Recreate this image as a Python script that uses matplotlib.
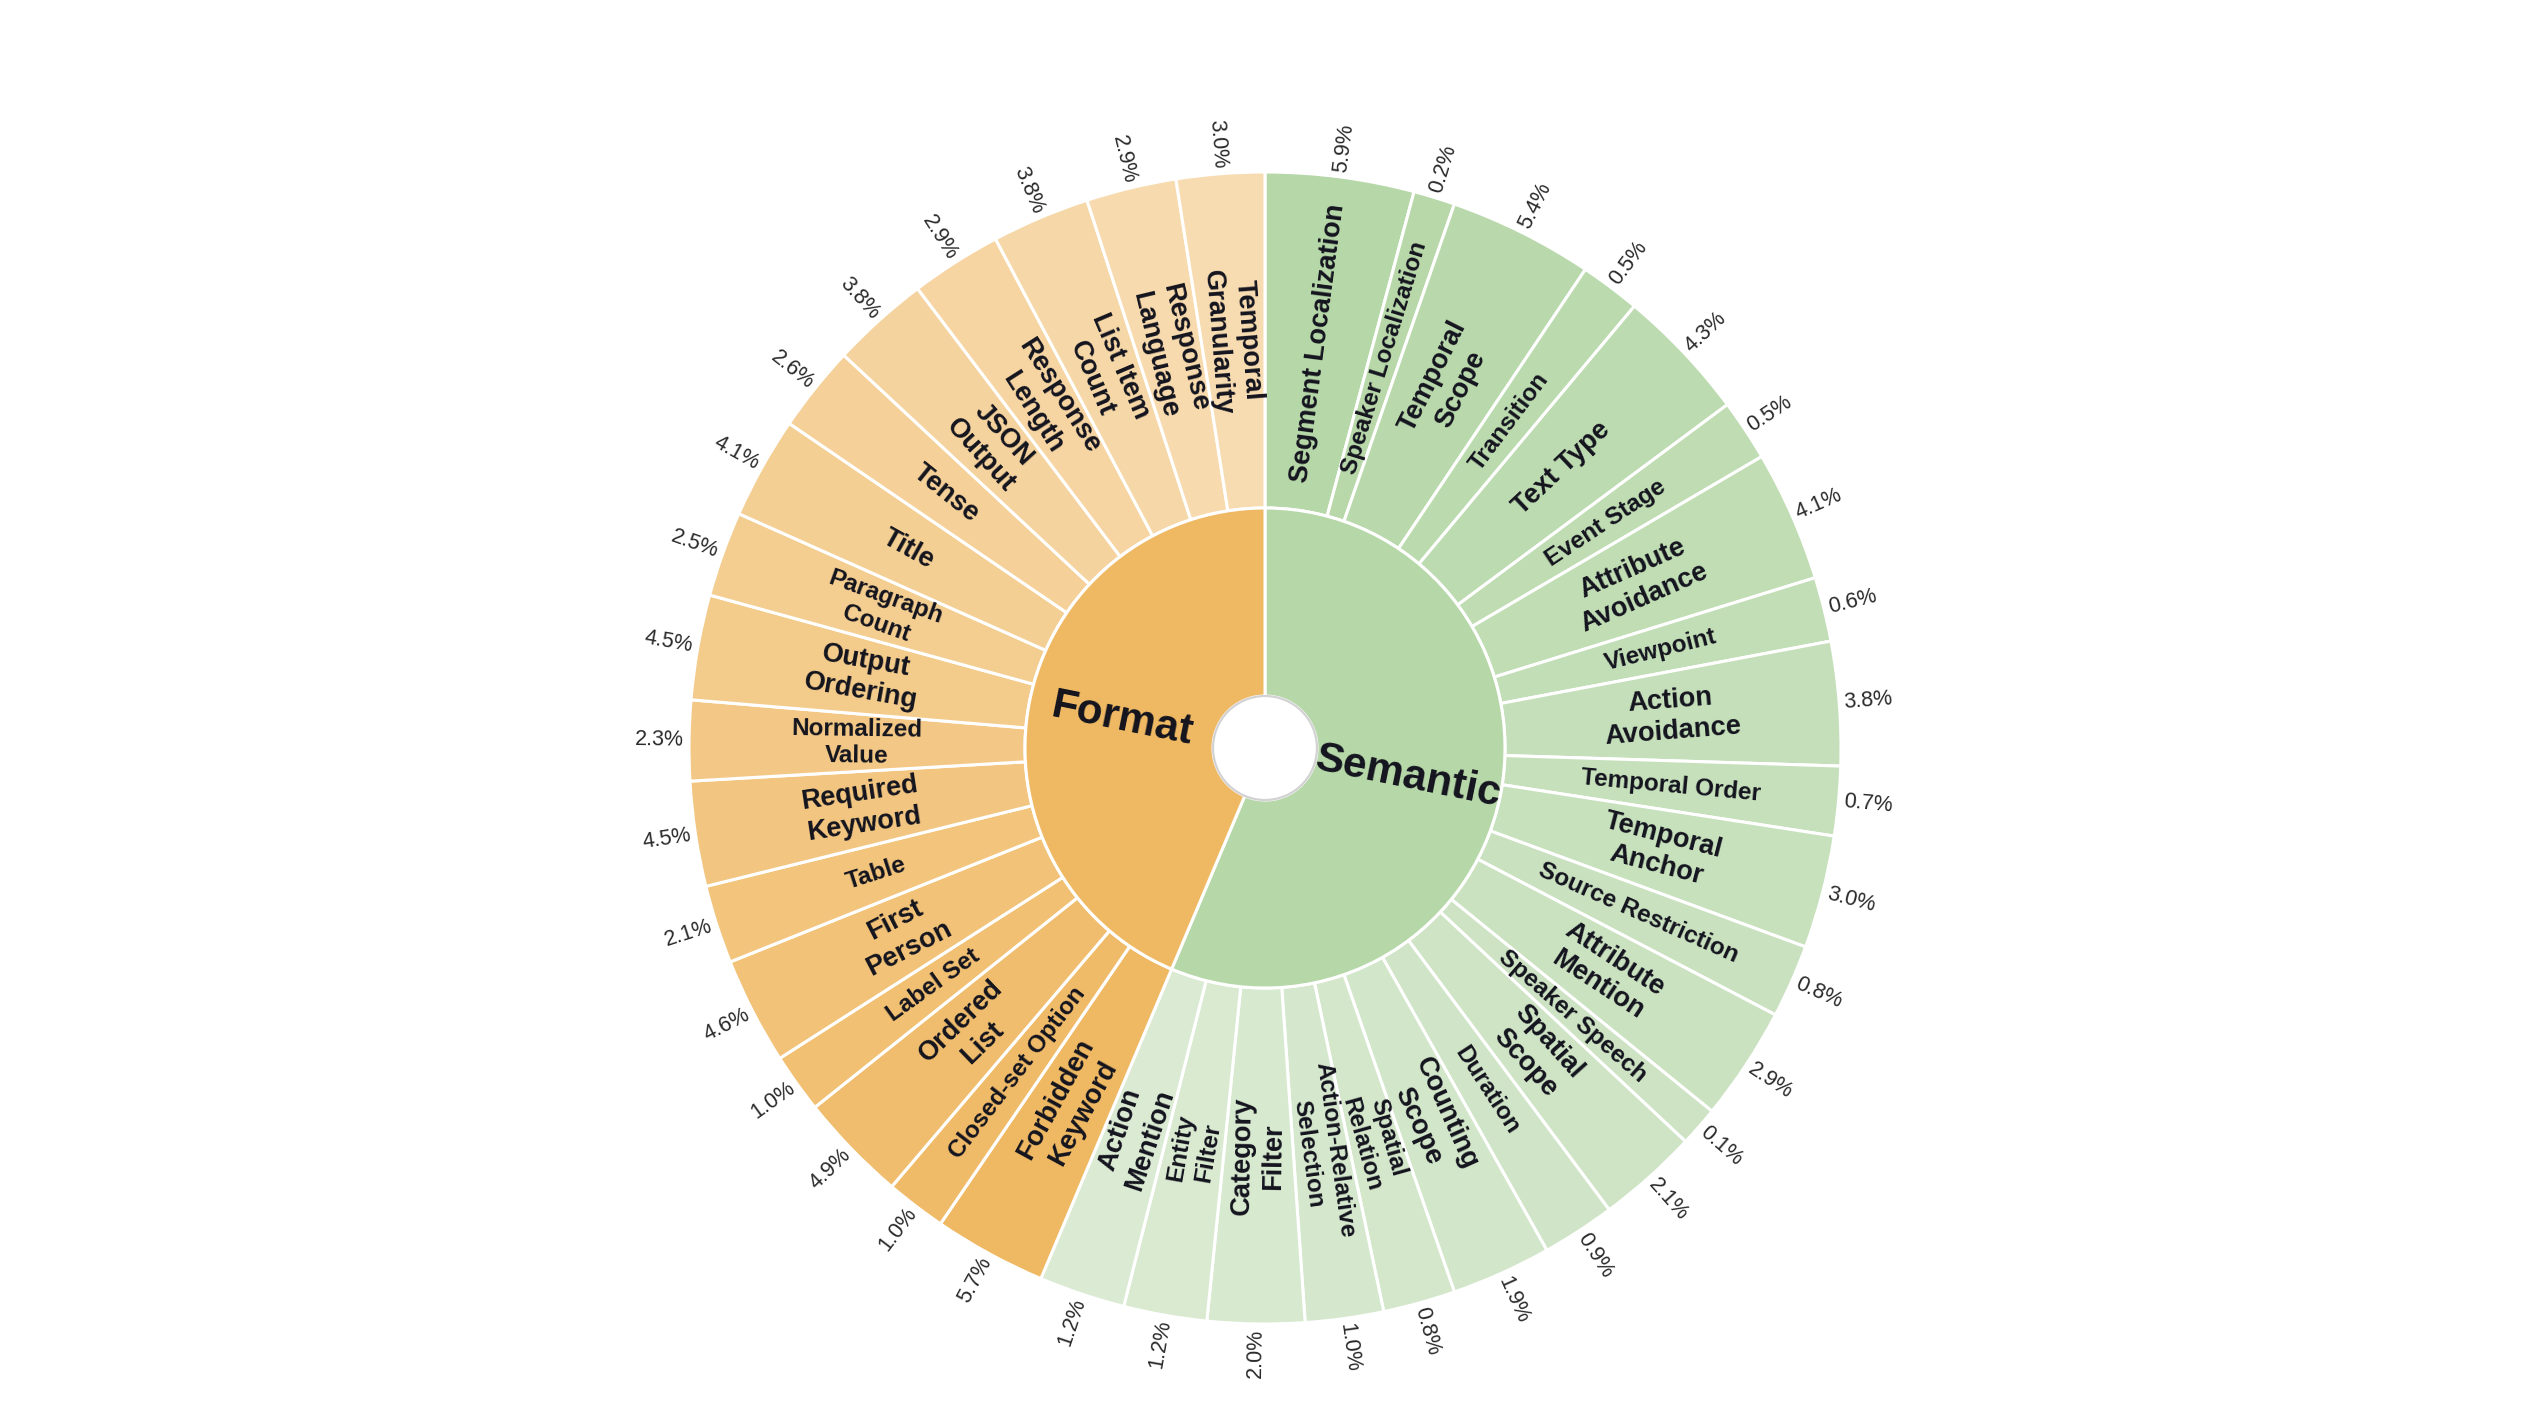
import matplotlib.pyplot as plt
import numpy as np
from matplotlib.patches import Circle

plt.rcParams['font.family'] = ['Liberation Sans', 'DejaVu Sans']

# 内圈两大类
groups = ['Semantic', 'Format']

# Semantic 子类（从正上方顺时针）
semantic_labels = ['Segment Localization', 'Speaker Localization', 'Temporal\nScope', 'Transition',
                   'Text Type', 'Event Stage', 'Attribute\nAvoidance', 'Viewpoint', 'Action\nAvoidance',
                   'Temporal Order', 'Temporal\nAnchor', 'Source Restriction', 'Attribute\nMention',
                   'Speaker Speech', 'Spatial\nScope', 'Duration', 'Counting\nScope', 'Spatial\nRelation',
                   'Action-Relative\nSelection', 'Category\nFilter', 'Entity\nFilter', 'Action\nMention']
semantic_pct = [5.9, 0.2, 5.4, 0.5, 4.3, 0.5, 4.1, 0.6, 3.8, 0.7, 3.0, 0.8, 2.9, 0.1, 2.1, 0.9,
                1.9, 0.8, 1.0, 2.0, 1.2, 1.2]
# 扇区角度（度，读图）
semantic_size = [15.0, 4.2, 14.6, 6.1, 13.5, 6.2, 13.2, 6.5, 12.5, 7.0, 11.4, 7.4, 11.5, 4.0,
                 10.2, 7.4, 10.1, 7.3, 7.9, 9.8, 8.4, 8.7]

# Format 子类（接着顺时针）
format_labels = ['Forbidden\nKeyword', 'Closed-set Option', 'Ordered\nList', 'Label Set', 'First\nPerson',
                 'Table', 'Required\nKeyword', 'Normalized\nValue', 'Output\nOrdering', 'Paragraph\nCount',
                 'Title', 'Tense', 'JSON\nOutput', 'Response\nLength', 'List Item\nCount',
                 'Response\nLanguage', 'Temporal\nGranularity']
format_pct = [5.7, 1.0, 4.9, 1.0, 4.6, 2.1, 4.5, 2.3, 4.5, 2.5, 4.1, 2.6, 3.8, 2.9, 3.8, 2.9, 3.0]
format_size = [11.4, 6.1, 11.0, 6.0, 10.8, 7.9, 10.6, 8.1, 10.6, 8.6, 10.3, 8.7, 9.9, 9.2, 9.9, 9.1, 8.9]

W, H = 2534, 1425
cx, cy = 1265, 748          # 圆心像素位置（从上往下）
R_out, R_mid, R_hole = 576.0, 240.0, 52.0

fig = plt.figure(figsize=(W / 100, H / 100), dpi=100)
ax = fig.add_axes([0, 0, 1, 1])


def tint(rgb, t):
    return tuple(np.array(rgb) * (1 - t) + t)


sem_base = np.array([182, 215, 168]) / 255
fmt_base = np.array([239, 185, 100]) / 255
outer_colors = [tint(sem_base, t) for t in np.linspace(0, 0.5, len(semantic_size))] + \
               [tint(fmt_base, t) for t in np.linspace(0, 0.5, len(format_size))]

sizes = semantic_size + format_size
labels = semantic_labels + format_labels
pcts = semantic_pct + format_pct

ax.pie(sizes, radius=1, startangle=90, counterclock=False, colors=outer_colors,
       wedgeprops=dict(width=(R_out - R_mid) / R_out, edgecolor='white', linewidth=2.2))
ax.pie([sum(semantic_size), sum(format_size)], radius=R_mid / R_out, startangle=90, counterclock=False,
       colors=[sem_base, fmt_base],
       wedgeprops=dict(width=(R_mid - R_hole) / R_out, edgecolor='white', linewidth=2.2))
ax.add_patch(Circle((0, 0), R_hole / R_out, facecolor='white', edgecolor='#d2d2d2', linewidth=1.6, zorder=5))


def polar(r, th):
    a = np.deg2rad(th)
    return r * np.sin(a), r * np.cos(a)


def radial_rot(th):
    return 90 - th if th < 180 else 270 - th


# 外圈标签
edges = np.concatenate([[0], np.cumsum(sizes)])
total = edges[-1]
for i, lab in enumerate(labels):
    th = (edges[i] + edges[i + 1]) / 2 / total * 360
    span = (edges[i + 1] - edges[i]) / total * 360
    fs = 19.6 if span >= 8.65 else 17.5
    x, y = polar((R_out + R_mid) / 2 / R_out, th)
    ax.text(x, y, lab, rotation=radial_rot(th), rotation_mode='anchor', ha='center', va='center',
            multialignment='center', fontsize=fs, fontweight='bold', color='#14141e', linespacing=1.25)
    x, y = polar((R_out + 5) / R_out, th)
    ax.text(x, y, '%.1f%%' % pcts[i], rotation=radial_rot(th), rotation_mode='anchor',
            ha='left' if th < 180 else 'right', va='center', fontsize=15.5, color='#2a2a2a')

# 内圈标签
inner_sizes = [sum(semantic_size), sum(format_size)]
start = 0
for g, s in zip(groups, inner_sizes):
    th = (start + s / 2) / total * 360
    start += s
    x, y = polar((R_mid + R_hole) / 2 / R_out, th)
    ax.text(x, y, g, rotation=radial_rot(th), rotation_mode='anchor', ha='center', va='center',
            fontsize=30.5, fontweight='bold', color='#14141e', zorder=6)

ax.set_xlim(-cx / R_out, (W - cx) / R_out)
ax.set_ylim(-(H - cy) / R_out, cy / R_out)
ax.set_aspect('auto')
ax.axis('off')

fig.savefig('out.png', dpi=100, facecolor='white')
